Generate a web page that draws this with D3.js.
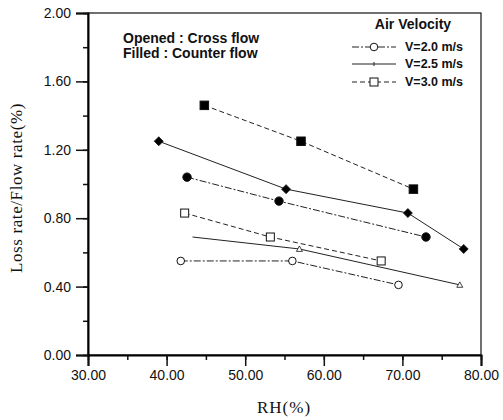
<!DOCTYPE html>
<html>
<head>
<meta charset="utf-8">
<script src="https://cdn.jsdelivr.net/npm/d3@7"></script>
<style>
  body { margin: 0; background: #fff; }
  svg { display: block; }
</style>
</head>
<body>
<svg id="chart"></svg>
<script>
// RH (%) and loss rate / flow rate (%)
let crossV20x = [41.8, 56.0, 69.5];
let crossV20y = [0.55, 0.55, 0.41];
let crossV25x = [43.3, 56.9, 77.3];
let crossV25y = [0.69, 0.62, 0.41];
let crossV30x = [42.3, 53.2, 67.3];
let crossV30y = [0.83, 0.69, 0.55];
let counterV20x = [42.6, 54.3, 73.0];
let counterV20y = [1.04, 0.90, 0.69];
let counterV25x = [39.0, 55.2, 70.7, 77.8];
let counterV25y = [1.25, 0.97, 0.83, 0.62];
let counterV30x = [44.8, 57.1, 71.4];
let counterV30y = [1.46, 1.25, 0.97];

let xTicks = [30, 40, 50, 60, 70, 80];
let yTicks = [0, 0.4, 0.8, 1.2, 1.6, 2.0];
let legendLabels = ["V=2.0 m/s", "V=2.5 m/s", "V=3.0 m/s"];

let width = 503;
let height = 420;
let padding = {top: 13, right: 22, bottom: 65, left: 88};

let svg = d3.select("#chart").attr("width", width).attr("height", height);

let xScale = d3.scaleLinear().domain([30, 80]).range([padding.left, width - padding.right]);
let yScale = d3.scaleLinear().domain([0, 2]).range([height - padding.bottom, padding.top]);

let zip = (xs, ys) => xs.map((x, i) => [x, ys[i]]);

let series = [
  {pts: zip(crossV20x, crossV20y), marker: "circle", filled: false, dash: "7,2,2,2"},
  {pts: zip(crossV25x, crossV25y), marker: "tri", filled: false, dash: null},
  {pts: zip(crossV30x, crossV30y), marker: "square", filled: false, dash: "5,3"},
  {pts: zip(counterV20x, counterV20y), marker: "circle", filled: true, dash: "7,2,2,2"},
  {pts: zip(counterV25x, counterV25y), marker: "diamond", filled: true, dash: null},
  {pts: zip(counterV30x, counterV30y), marker: "square", filled: true, dash: "5,3"}
];

// frame
svg.append("rect")
  .attr("x", padding.left)
  .attr("y", padding.top)
  .attr("width", width - padding.right - padding.left)
  .attr("height", height - padding.bottom - padding.top)
  .attr("fill", "none")
  .attr("stroke", "#111")
  .attr("stroke-width", 1.2);

// axes
let minorX = d3.range(30, 80.01, 5);
let minorY = d3.range(0, 2.001, 0.2);

svg.append("g")
  .attr("transform", "translate(0," + (height - padding.bottom) + ")")
  .call(d3.axisBottom(xScale).tickValues(minorX).tickSize(5).tickFormat(""))
  .call(g => g.select(".domain").remove());

svg.append("g")
  .attr("id", "x-axis")
  .attr("transform", "translate(0," + (height - padding.bottom) + ")")
  .call(d3.axisBottom(xScale).tickValues(xTicks).tickSize(11).tickPadding(4).tickFormat(d3.format(".2f")))
  .call(g => g.select(".domain").attr("stroke-width", 2));

svg.append("g")
  .attr("transform", "translate(" + padding.left + ",0)")
  .call(d3.axisLeft(yScale).tickValues(minorY).tickSize(5).tickFormat(""))
  .call(g => g.select(".domain").remove());

svg.append("g")
  .attr("id", "y-axis")
  .attr("transform", "translate(" + padding.left + ",0)")
  .call(d3.axisLeft(yScale).tickValues(yTicks).tickSize(12).tickPadding(5).tickFormat(d3.format(".2f")))
  .call(g => g.select(".domain").attr("stroke-width", 2));

svg.selectAll(".tick text")
  .style("font-family", "Liberation Sans, Arial, sans-serif")
  .style("font-size", "14px")
  .attr("fill", "#111");
svg.selectAll(".tick line").attr("stroke", "#111").attr("stroke-width", 1.5);

// lines
let line = d3.line().x(d => xScale(d[0])).y(d => yScale(d[1]));

svg.selectAll(".series")
  .data(series)
  .enter()
  .append("path")
  .attr("class", "series")
  .attr("d", d => line(d.pts))
  .attr("fill", "none")
  .attr("stroke", "#222")
  .attr("stroke-width", 1)
  .attr("stroke-dasharray", d => d.dash);

let drawMarker = (g, kind, filled, x, y) => {
  let fill = filled ? "#000" : "#fff";
  if (kind === "circle") {
    g.append("circle").attr("cx", x).attr("cy", y).attr("r", filled ? 4.2 : 3.8)
      .attr("fill", fill).attr("stroke", "#111").attr("stroke-width", 1);
  } else if (kind === "square") {
    let s = filled ? 8.5 : 8;
    g.append("rect").attr("x", x - s / 2).attr("y", y - s / 2).attr("width", s).attr("height", s)
      .attr("fill", fill).attr("stroke", "#111").attr("stroke-width", 1);
  } else if (kind === "diamond") {
    let r = 4.5;
    g.append("path").attr("d", "M" + x + "," + (y - r) + "L" + (x + r) + "," + y + "L" + x + "," + (y + r) + "L" + (x - r) + "," + y + "Z")
      .attr("fill", fill).attr("stroke", "#111").attr("stroke-width", 0.8);
  } else if (kind === "tri") {
    let r = 3;
    g.append("path").attr("d", "M" + x + "," + (y - r) + "L" + (x + r) + "," + (y + r * 0.8) + "L" + (x - r) + "," + (y + r * 0.8) + "Z")
      .attr("fill", fill).attr("stroke", "#111").attr("stroke-width", 0.8);
  }
};

let marks = svg.append("g");
series.forEach(s => {
  s.pts.forEach((p, i) => {
    if (s.marker === "tri" && i === 0) return;
    drawMarker(marks, s.marker, s.filled, xScale(p[0]), yScale(p[1]));
  });
});

// annotation
let note = svg.append("g")
  .style("font-family", "Liberation Sans, Arial, sans-serif")
  .style("font-weight", "bold")
  .style("font-size", "14px")
  .attr("fill", "#111");
note.append("text").attr("x", 123).attr("y", 43).text("Opened : Cross flow");
note.append("text").attr("x", 123).attr("y", 58).text("Filled : Counter flow");

// legend
let legend = svg.append("g")
  .style("font-family", "Liberation Sans, Arial, sans-serif")
  .attr("fill", "#111");
legend.append("text").attr("x", 413).attr("y", 29).attr("text-anchor", "middle")
  .style("font-weight", "bold").style("font-size", "14px").text("Air Velocity");

let legendY = [47, 64, 82];
let legendSeries = [series[0], series[1], series[2]];
legendSeries.forEach((s, i) => {
  let y = legendY[i];
  legend.append("line").attr("x1", 352).attr("x2", 396).attr("y1", y).attr("y2", y)
    .attr("stroke", "#222").attr("stroke-width", 1).attr("stroke-dasharray", s.dash);
  if (s.marker === "tri") {
    legend.append("line").attr("x1", 374).attr("x2", 374).attr("y1", y - 2).attr("y2", y + 2)
      .attr("stroke", "#222");
  } else {
    drawMarker(legend, s.marker, false, 374, y);
  }
  legend.append("text").attr("x", 405).attr("y", y + 4)
    .style("font-weight", "bold").style("font-size", "12.5px").text(legendLabels[i]);
});

// axis titles
svg.append("text")
  .attr("transform", "translate(22,188)rotate(-90)")
  .attr("text-anchor", "middle")
  .style("font-family", "Liberation Serif, Times New Roman, serif")
  .style("font-size", "17px")
  .style("letter-spacing", "0.6px")
  .attr("fill", "#111")
  .text("Loss rate/Flow rate(%)");

svg.append("text")
  .attr("x", 284)
  .attr("y", 413)
  .attr("text-anchor", "middle")
  .style("font-family", "Liberation Serif, Times New Roman, serif")
  .style("font-size", "17px")
  .style("letter-spacing", "1px")
  .attr("fill", "#111")
  .text("RH(%)");
</script>
</body>
</html>
